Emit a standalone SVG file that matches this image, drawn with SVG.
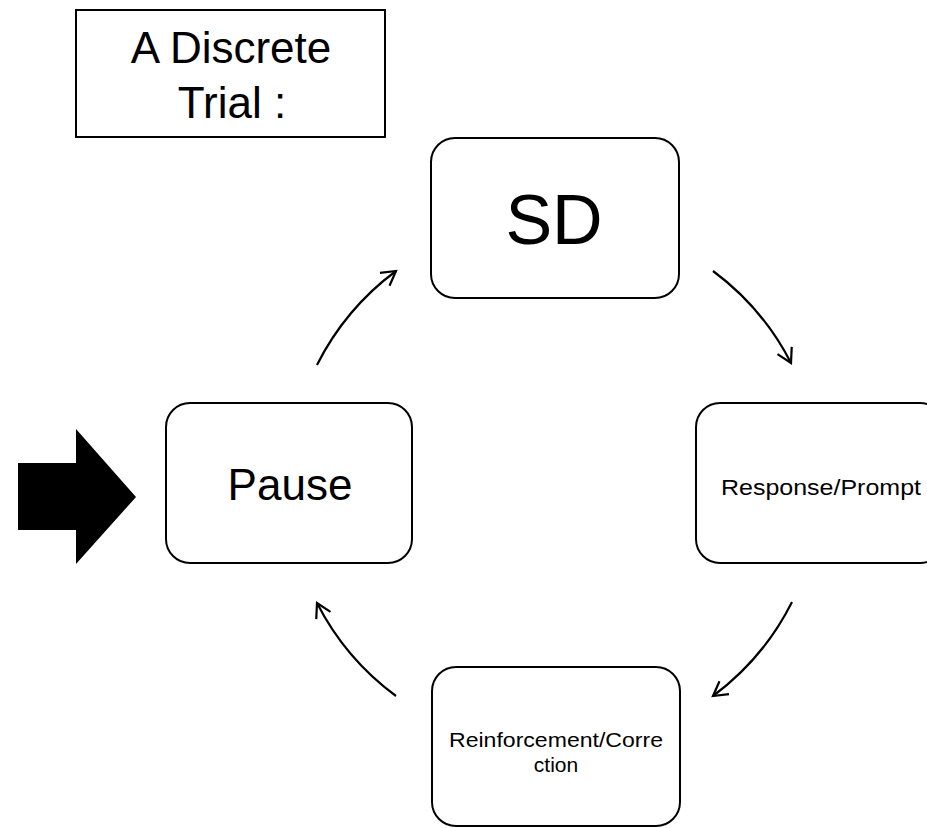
<svg xmlns="http://www.w3.org/2000/svg" width="927" height="828" viewBox="0 0 927 828">
  <style>
    .box { fill: #ffffff; stroke: #000000; stroke-width: 2; }
    .lbl { font-family: "Liberation Sans", Arial, Helvetica, sans-serif; fill: #000000; text-anchor: middle; }
    .flow { fill: none; stroke: #000000; stroke-width: 2.2; marker-end: url(#open); }
  </style>
  <defs>
    <marker id="open" viewBox="0 0 20 20" refX="17" refY="10" markerWidth="20" markerHeight="20" markerUnits="userSpaceOnUse" orient="auto">
      <path d="M3,2 L17,10 L3,18" fill="none" stroke="#000000" stroke-width="2.2" stroke-linejoin="miter"/>
    </marker>
  </defs>

  <rect width="927" height="828" fill="#ffffff"/>

  <!-- title -->
  <g id="title">
    <rect class="box" x="76" y="10" width="309" height="127"/>
    <text class="lbl" x="231" y="63" font-size="44">A Discrete</text>
    <text class="lbl" x="232" y="118" font-size="44">Trial :</text>
  </g>

  <!-- cycle steps -->
  <g id="sd">
    <rect class="box" x="431" y="138" width="248" height="160" rx="24" ry="24"/>
    <text class="lbl" x="554" y="244" font-size="70">SD</text>
  </g>

  <g id="response">
    <rect class="box" x="696" y="403" width="248" height="160" rx="24" ry="24"/>
    <text class="lbl" x="821" y="495" font-size="21.5" textLength="200" lengthAdjust="spacingAndGlyphs">Response/Prompt</text>
  </g>

  <g id="reinforcement">
    <rect class="box" x="432" y="667" width="248" height="159" rx="24" ry="24"/>
    <text class="lbl" x="556" y="747" font-size="21" textLength="214" lengthAdjust="spacingAndGlyphs">Reinforcement/Corre</text>
    <text class="lbl" x="556" y="772" font-size="21">ction</text>
  </g>

  <g id="pause">
    <rect class="box" x="166" y="403" width="246" height="160" rx="24" ry="24"/>
    <text class="lbl" x="290" y="500" font-size="44">Pause</text>
  </g>

  <!-- entry arrow -->
  <g id="start">
    <polygon points="18,463 76,463 76,429 136,497 76,564 76,530 18,530" fill="#000000"/>
  </g>

  <!-- connectors: arcs around a common centre (554,483), r=265 -->
  <g id="connectors">
    <path class="flow" d="M317,365 A265,265 0 0 1 396,271"/>
    <path class="flow" d="M713,271 A265,265 0 0 1 791,363"/>
    <path class="flow" d="M792,602 A265,265 0 0 1 713,696"/>
    <path class="flow" d="M396,696 A265,265 0 0 1 317,603"/>
  </g>
</svg>
